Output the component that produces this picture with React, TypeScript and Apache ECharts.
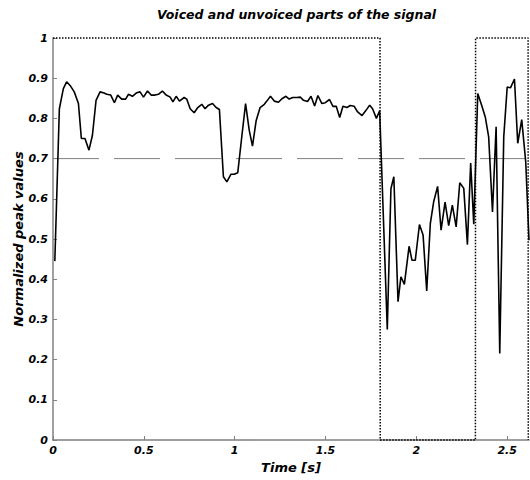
import React, { useEffect, useRef } from "react";
import * as echarts from "echarts";

const timeS = [
  0.010, 0.035, 0.057, 0.075, 0.094, 0.117, 0.140, 0.156, 0.176, 0.198,
  0.217, 0.237, 0.259, 0.281, 0.296, 0.318, 0.338, 0.356, 0.378, 0.400,
  0.415, 0.437, 0.461, 0.479, 0.498, 0.520, 0.540, 0.562, 0.580, 0.602,
  0.623, 0.645, 0.660, 0.678, 0.696, 0.722, 0.736, 0.755, 0.777, 0.795,
  0.819, 0.837, 0.856, 0.878, 0.898, 0.916, 0.938, 0.957, 0.979, 0.997,
  1.017, 1.040, 1.060, 1.080, 1.098, 1.118, 1.140, 1.163, 1.177, 1.197,
  1.218, 1.241, 1.260, 1.282, 1.300, 1.320, 1.343, 1.361, 1.379, 1.401,
  1.420, 1.440, 1.458, 1.480, 1.499, 1.522, 1.541, 1.559, 1.578, 1.596,
  1.618, 1.636, 1.658, 1.677, 1.701, 1.723, 1.743, 1.759, 1.780, 1.798,
  1.840, 1.860, 1.876, 1.899, 1.915, 1.934, 1.960, 1.976, 1.994, 2.017,
  2.037, 2.057, 2.077, 2.095, 2.117, 2.136, 2.158, 2.178, 2.198, 2.219,
  2.239, 2.261, 2.281, 2.299, 2.316, 2.338, 2.362, 2.380, 2.398, 2.419,
  2.439, 2.459, 2.481, 2.500, 2.518, 2.540, 2.558, 2.580, 2.602, 2.620,
];

const peakValues = [
  0.445, 0.824, 0.874, 0.891, 0.882, 0.866, 0.837, 0.750, 0.750, 0.721,
  0.758, 0.845, 0.866, 0.863, 0.860, 0.858, 0.839, 0.858, 0.848, 0.848,
  0.860, 0.855, 0.864, 0.866, 0.853, 0.868, 0.858, 0.858, 0.860, 0.868,
  0.858, 0.853, 0.841, 0.855, 0.843, 0.852, 0.848, 0.824, 0.814, 0.826,
  0.835, 0.824, 0.833, 0.837, 0.827, 0.822, 0.655, 0.642, 0.661, 0.661,
  0.665, 0.758, 0.837, 0.771, 0.731, 0.794, 0.827, 0.835, 0.843, 0.855,
  0.843, 0.840, 0.849, 0.855, 0.848, 0.852, 0.852, 0.853, 0.845, 0.842,
  0.855, 0.831, 0.857, 0.837, 0.839, 0.847, 0.830, 0.830, 0.802, 0.830,
  0.827, 0.832, 0.830, 0.816, 0.807, 0.820, 0.833, 0.824, 0.800, 0.819,
  0.275, 0.625, 0.655, 0.344, 0.406, 0.387, 0.482, 0.447, 0.447, 0.536,
  0.510, 0.371, 0.539, 0.592, 0.631, 0.522, 0.592, 0.533, 0.584, 0.530,
  0.640, 0.626, 0.486, 0.689, 0.537, 0.862, 0.829, 0.802, 0.754, 0.567,
  0.779, 0.215, 0.754, 0.878, 0.876, 0.898, 0.738, 0.797, 0.692, 0.497,
];

const maskTime = [0, 1.800, 1.801, 2.325, 2.326, 2.615, 2.616];
const maskValue = [1, 1, 0, 0, 1, 1, 0];

const thresholdTime = [0, 2.62];
const thresholdValue = [0.7, 0.7];

const xTicks = [0, 0.5, 1, 1.5, 2, 2.5];

const FONT = "DejaVu Sans";

export default function App() {
  const ref = useRef<HTMLDivElement>(null);

  useEffect(() => {
    if (!ref.current) return;
    const chart = echarts.init(ref.current, null, { renderer: "svg" });
    const textStyle = {
      fontFamily: FONT,
      fontStyle: "italic" as const,
      fontWeight: "bold" as const,
      color: "#000",
    };
    chart.setOption({
      animation: false,
      backgroundColor: "#fff",
      title: {
        text: "Voiced and unvoiced parts of the signal",
        left: 152,
        top: 3,
        textStyle: { ...textStyle, fontSize: 12.5 },
      },
      grid: {
        left: 53,
        right: 1,
        top: 38,
        bottom: 40,
        containLabel: false,
        outerBoundsMode: "none",
      },
      xAxis: {
        type: "value",
        min: 0,
        max: 2.62,
        name: "Time [s]",
        nameLocation: "middle",
        nameGap: 21,
        nameMoveOverlap: false,
        nameTextStyle: { ...textStyle, fontSize: 13 },
        axisLine: { show: true, lineStyle: { color: "#808080", width: 1.5 } },
        axisTick: {
          show: true,
          inside: true,
          length: 4,
          customValues: xTicks,
          lineStyle: { color: "#808080" },
        },
        axisLabel: {
          ...textStyle,
          fontSize: 11,
          margin: 5,
          customValues: xTicks,
        },
        splitLine: { show: false },
      },
      yAxis: {
        type: "value",
        min: 0,
        max: 1,
        interval: 0.1,
        name: "Normalized peak values",
        nameLocation: "middle",
        nameGap: 28,
        nameMoveOverlap: false,
        nameTextStyle: { ...textStyle, fontSize: 13 },
        axisLine: { show: true, lineStyle: { color: "#808080", width: 1.5 } },
        axisTick: {
          show: true,
          inside: true,
          length: 4,
          lineStyle: { color: "#808080" },
        },
        axisLabel: { ...textStyle, fontSize: 11, margin: 5 },
        splitLine: { show: false },
      },
      series: [
        {
          type: "line",
          data: thresholdTime.map((t, i) => [t, thresholdValue[i]]),
          showSymbol: false,
          silent: true,
          lineStyle: { color: "#808080", width: 1, type: [46, 15] },
        },
        {
          type: "line",
          data: maskTime.map((t, i) => [t, maskValue[i]]),
          showSymbol: false,
          silent: true,
          clip: false,
          lineStyle: { color: "#000", width: 1.5, type: [1.5, 1.5] },
        },
        {
          type: "line",
          data: timeS.map((t, i) => [t, peakValues[i]]),
          showSymbol: false,
          silent: true,
          lineStyle: { color: "#000", width: 1.6 },
        },
      ],
    });
    return () => chart.dispose();
  }, []);

  return (
    <div
      ref={ref}
      style={{ position: "absolute", left: 0, top: 0, width: 530, height: 480 }}
    />
  );
}
